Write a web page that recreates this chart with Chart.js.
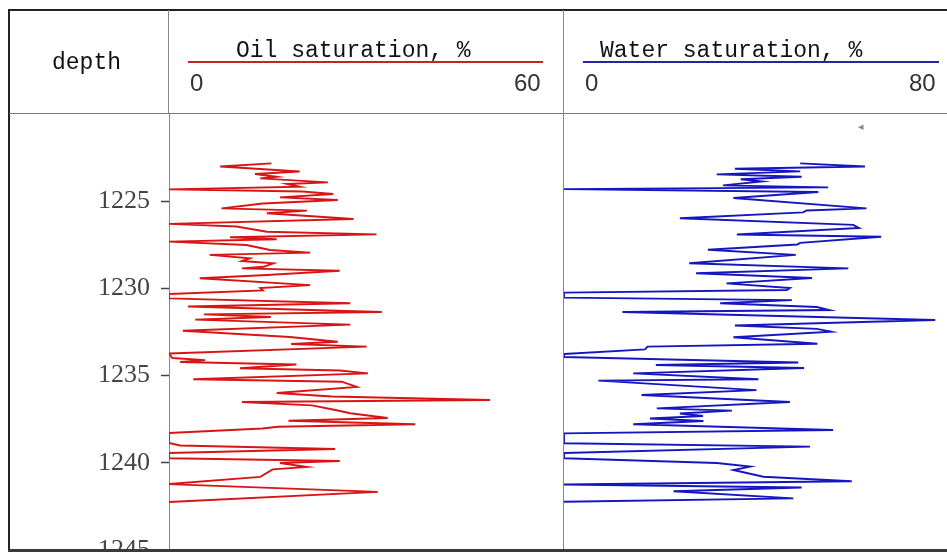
<!DOCTYPE html>
<html>
<head>
<meta charset="utf-8">
<script src="https://cdn.jsdelivr.net/npm/chart.js"></script>
<style>
  html, body { margin: 0; padding: 0; background: #fff; overflow: hidden; }
  #wrap { position: relative; width: 947px; height: 552px; background: #fff; }
  canvas { position: absolute; top: 0; }
  .ln { position: absolute; }
  .t { position: absolute; white-space: nowrap; line-height: 1; }
  .title { font-family: 'Liberation Mono', 'DejaVu Sans Mono', monospace; font-size: 23px; color: #111; }
  .num { font-family: 'Liberation Sans', Arial, sans-serif; font-size: 24px; color: #333; }
</style>
</head>
<body>
<div id="wrap">
  <canvas id="oil" width="563" height="552" style="left:0"></canvas>
  <canvas id="water" width="384" height="552" style="left:563px"></canvas>

  <!-- frame -->
  <div class="ln" style="left:8px;top:9px;width:939px;height:2px;background:#222"></div>
  <div class="ln" style="left:8px;top:9px;width:2px;height:543px;background:#222"></div>
  <div class="ln" style="left:9px;top:113px;width:938px;height:1px;background:#777"></div>
  <div class="ln" style="left:168px;top:10px;width:1px;height:104px;background:#888"></div>
  <div class="ln" style="left:563px;top:10px;width:1px;height:540px;background:#888"></div>
  <div class="ln" style="left:8px;top:549px;width:939px;height:3px;background:#3a3a3a"></div>

  <!-- header -->
  <div class="t title" style="left:52px;top:52px">depth</div>
  <div class="t title" style="left:236px;top:40px">Oil saturation, %</div>
  <div class="ln" style="left:188px;top:61px;width:355px;height:2px;background:#c42424"></div>
  <div class="t num" style="left:190px;top:71px">0</div>
  <div class="t num" style="left:514px;top:71px">60</div>
  <div class="t title" style="left:600px;top:40px">Water saturation, %</div>
  <div class="ln" style="left:583px;top:61px;width:356px;height:2px;background:#2424a8"></div>
  <div class="t num" style="left:585px;top:71px">0</div>
  <div class="t num" style="left:909px;top:71px">80</div>
  <div class="t" style="left:858px;top:121px;font-size:11px;color:#888;font-family:'DejaVu Sans'">◂</div>
</div>

<script>
const depthTicks = [1225, 1230, 1235, 1240, 1245];
const depthMin = 1220;
const depthMax = 1245;
const oilScale = [0, 60];
const waterScale = [0, 80];
const waterVisibleMax = 78; // the 80 end of the water track is cut off by the picture edge

// Oil saturation curve, %
const oilDepth = [
  1222.83, 1223.01, 1223.30, 1223.44, 1223.60, 1223.69, 1223.92, 1224.01, 1224.17, 1224.32,
  1224.44, 1224.59, 1224.78, 1224.93, 1225.13, 1225.41, 1225.54, 1225.69, 1226.02, 1226.30,
  1226.45, 1226.75, 1226.90, 1227.07, 1227.18, 1227.32, 1227.51, 1227.80, 1227.95, 1228.08,
  1228.27, 1228.43, 1228.56, 1228.76, 1228.85, 1228.99, 1229.23, 1229.42, 1229.81, 1229.98,
  1230.12, 1230.32, 1230.57, 1230.85, 1231.04, 1231.35, 1231.49, 1231.64, 1231.79, 1232.08,
  1232.43, 1232.79, 1233.06, 1233.19, 1233.34, 1233.73, 1233.99, 1234.11, 1234.22, 1234.36,
  1234.58, 1234.71, 1234.87, 1235.21, 1235.35, 1235.65, 1236.00, 1236.20, 1236.40, 1236.51,
  1236.71, 1237.00, 1237.16, 1237.43, 1237.59, 1237.79, 1237.93, 1238.03, 1238.29, 1238.86,
  1239.01, 1239.21, 1239.44, 1239.74, 1239.90, 1240.01, 1240.24, 1240.38, 1240.81, 1241.22,
  1241.67, 1242.25
];
const oilSat = [
  15.6, 7.8, 19.9, 13.1, 16.4, 13.9, 24.2, 18.0, 19.9, 0,
  20.3, 25.0, 16.9, 25.7, 14.3, 8.0, 21.0, 14.9, 28.1, 0,
  10.3, 14.9, 31.6, 9.3, 16.4, 0, 11.8, 15.4, 21.5, 6.2,
  12.3, 11.1, 15.9, 14.4, 11.1, 26.0, 14.9, 4.7, 21.5, 13.9,
  14.3, 0, 0, 27.6, 2.9, 32.4, 5.3, 15.5, 4.0, 27.6,
  2.1, 18.4, 25.7, 18.6, 30.1, 0, 0.5, 5.5, 1.7, 19.4,
  10.8, 26.0, 30.3, 3.7, 26.3, 28.6, 16.4, 24.8, 48.9, 11.1,
  21.8, 25.7, 27.6, 33.3, 18.2, 37.5, 16.6, 14.2, 0, 0,
  1.7, 25.3, 0, 0, 26.0, 16.9, 21.0, 15.8, 13.9, 0,
  31.8, 0
];

// Water saturation curve, %
const waterDepth = [
  1222.83, 1223.01, 1223.14, 1223.29, 1223.46, 1223.60, 1223.74, 1223.87, 1224.09, 1224.21,
  1224.31, 1224.47, 1224.82, 1225.41, 1225.53, 1225.64, 1225.98, 1226.36, 1226.54, 1226.91,
  1227.04, 1227.39, 1227.48, 1227.78, 1228.08, 1228.56, 1228.85, 1229.13, 1229.40, 1229.71,
  1229.98, 1230.09, 1230.24, 1230.53, 1230.67, 1230.85, 1231.07, 1231.24, 1231.35, 1231.81,
  1232.13, 1232.32, 1232.48, 1232.80, 1233.17, 1233.34, 1233.50, 1233.76, 1233.93, 1234.25,
  1234.39, 1234.56, 1234.87, 1235.21, 1235.29, 1235.83, 1236.11, 1236.51, 1236.88, 1237.01,
  1237.17, 1237.32, 1237.46, 1237.60, 1237.79, 1238.12, 1238.31, 1238.88, 1239.07, 1239.44,
  1239.74, 1240.01, 1240.22, 1240.41, 1240.80, 1241.06, 1241.24, 1241.42, 1241.63, 1242.04,
  1242.23
];
const waterSat = [
  48.1, 61.3, 34.8, 48.1, 31.1, 48.4, 36.0, 40.3, 32.4, 53.8,
  0, 51.8, 34.5, 61.6, 49.4, 48.7, 23.6, 58.9, 60.1, 35.2,
  64.6, 48.1, 47.5, 29.3, 47.2, 25.5, 57.9, 26.9, 50.5, 33.1,
  46.0, 45.4, 0, 0, 46.4, 31.8, 51.5, 54.0, 11.9, 75.6,
  34.8, 51.5, 54.4, 34.5, 51.6, 17.0, 16.5, 0, 0, 47.7,
  18.7, 48.9, 14.1, 39.6, 7.0, 39.2, 15.8, 46.0, 18.9, 34.2,
  23.6, 28.3, 17.5, 28.4, 14.1, 54.8, 0, 0, 50.1, 0,
  0, 31.1, 37.9, 34.5, 40.6, 58.6, 0, 48.4, 22.3, 46.7,
  0
];

function curve(depths, values) {
  return depths.map((d, i) => ({ x: values[i], y: d }));
}

function depthAxis(show) {
  return {
    type: 'linear',
    reverse: true,
    min: depthMin,
    max: depthMax,
    display: show,
    afterBuildTicks: (s) => { s.ticks = depthTicks.map((v) => ({ value: v })); },
    afterFit: (s) => { if (show) s.width = 169; s.paddingTop = 0; s.paddingBottom = 0; },
    grid: { drawOnChartArea: false, tickLength: 8, color: '#444', tickWidth: 1.5 },
    border: { display: true, color: '#888', width: 1 },
    ticks: {
      padding: 11,
      color: '#444',
      font: { family: 'Liberation Serif', size: 26 },
      callback: (v) => String(v),
    },
  };
}

function track(canvasId, data, color, xMax, padLeft, showDepth) {
  const ctx = document.getElementById(canvasId).getContext('2d');
  return new Chart(ctx, {
    type: 'line',
    data: {
      datasets: [{
        data,
        borderColor: color,
        borderWidth: 1.9,
        pointRadius: 0,
        tension: 0,
        fill: false,
      }],
    },
    options: {
      responsive: false,
      animation: false,
      indexAxis: 'y',
      layout: { padding: { top: 114, bottom: 2, left: padLeft, right: 0 } },
      scales: {
        x: { type: 'linear', min: 0, max: xMax, display: false },
        y: depthAxis(showDepth),
      },
      plugins: { legend: { display: false }, tooltip: { enabled: false } },
    },
  });
}

track('oil', curve(oilDepth, oilSat), '#d81414', oilScale[1], 0, true);
track('water', curve(waterDepth, waterSat), '#1616c0', waterVisibleMax, 1, false);
</script>
</body>
</html>
